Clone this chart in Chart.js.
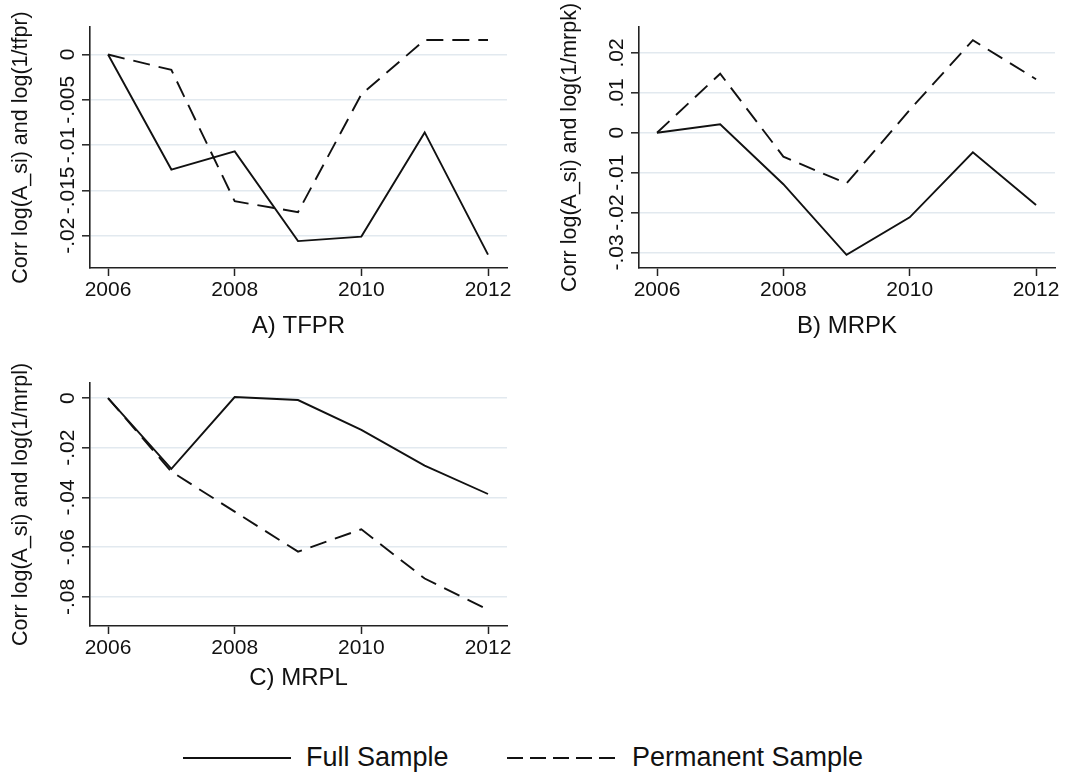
<!DOCTYPE html>
<html>
<head>
<meta charset="utf-8">
<script src="https://cdn.jsdelivr.net/npm/chart.js@4.4.1/dist/chart.umd.min.js"></script>
<style>
  body { margin: 0; background: #fff; width: 1071px; height: 773px; position: relative; overflow: hidden;
         font-family: 'Liberation Sans', Arial, Helvetica, sans-serif; }
  canvas { position: absolute; }
  .leg-line { position: absolute; top: 749px; }
  .leg-text { position: absolute; top: 744px; font-size: 27px; line-height: 27px; color: #111; white-space: nowrap; }
</style>
</head>
<body>
<canvas id="cA" width="530" height="345" style="left:0;top:0"></canvas>
<canvas id="cB" width="531" height="345" style="left:540px;top:0"></canvas>
<canvas id="cC" width="530" height="345" style="left:0;top:355px"></canvas>

<svg class="leg-line" style="left:183px" width="108" height="18"><line x1="0" y1="9" x2="108" y2="9" stroke="#111" stroke-width="1.9"/></svg>
<span class="leg-text" id="legFull" style="left:306px"></span>
<svg class="leg-line" style="left:507px" width="108" height="18"><line x1="0" y1="9" x2="108" y2="9" stroke="#111" stroke-width="1.9" stroke-dasharray="16 7"/></svg>
<span class="leg-text" id="legPerm" style="left:632px"></span>

<script>
const years = [2006, 2007, 2008, 2009, 2010, 2011, 2012];
const xTicks = [2006, 2008, 2010, 2012];
const seriesNames = ['Full Sample', 'Permanent Sample'];

// A) TFPR
const fullA = [0, -0.0127, -0.0107, -0.0206, -0.0201, -0.0086, -0.0221];
const permA = [0, -0.0017, -0.0162, -0.0174, -0.0044, 0.0016, 0.0016];
const yTicksA = [-0.02, -0.015, -0.01, -0.005, 0];
const yLabelsA = ['-.02', '-.015', '-.01', '-.005', '0'];

// B) MRPK
const fullB = [0, 0.0021, -0.0129, -0.0306, -0.0212, -0.0049, -0.0181];
const permB = [0, 0.0148, -0.006, -0.0127, 0.0057, 0.0232, 0.0134];
const yTicksB = [-0.03, -0.02, -0.01, 0, 0.01, 0.02];
const yLabelsB = ['-.03', '-.02', '-.01', '0', '.01', '.02'];

// C) MRPL
const fullC = [0, -0.0285, 0.0004, -0.0008, -0.0128, -0.0272, -0.0386];
const permC = [0, -0.0296, -0.0457, -0.0618, -0.0528, -0.0726, -0.0851];
const yTicksC = [-0.08, -0.06, -0.04, -0.02, 0];
const yLabelsC = ['-.08', '-.06', '-.04', '-.02', '0'];

const FONT = "'Liberation Sans', Arial, Helvetica, sans-serif";
const INK = '#111';
const AXIS = '#222';
const GRID = '#e2e9ef';

document.getElementById('legFull').textContent = seriesNames[0];
document.getElementById('legPerm').textContent = seriesNames[1];

// y tick labels are vertical in the original, so draw them rotated
const rotatedYLabels = {
  id: 'rotatedYLabels',
  afterDraw(chart, args, opts) {
    const ys = chart.scales.y;
    const ctx = chart.ctx;
    ctx.save();
    ctx.font = '21px ' + FONT;
    ctx.fillStyle = INK;
    ctx.textAlign = 'center';
    ctx.textBaseline = 'alphabetic';
    opts.values.forEach((v, i) => {
      const py = ys.getPixelForValue(v);
      ctx.save();
      ctx.translate(ys.right - 16, py);
      ctx.rotate(-Math.PI / 2);
      ctx.fillText(opts.labels[i], 0, 0);
      ctx.restore();
    });
    ctx.restore();
  }
};

function makePanel(id, p) {
  const ctx = document.getElementById(id).getContext('2d');
  return new Chart(ctx, {
    type: 'line',
    data: {
      datasets: [
        {
          label: seriesNames[0],
          data: years.map((y, i) => ({ x: y, y: p.full[i] })),
          borderColor: INK,
          borderWidth: 1.9,
          pointRadius: 0,
          tension: 0,
          fill: false
        },
        {
          label: seriesNames[1],
          data: years.map((y, i) => ({ x: y, y: p.perm[i] })),
          borderColor: INK,
          borderWidth: 1.9,
          borderDash: [17, 9],
          pointRadius: 0,
          tension: 0,
          fill: false
        }
      ]
    },
    options: {
      responsive: false,
      animation: false,
      devicePixelRatio: 1,
      layout: { padding: { top: p.padTop, right: p.padRight, left: 0, bottom: 0 } },
      plugins: {
        legend: { display: false },
        tooltip: { enabled: false },
        rotatedYLabels: { values: p.yTicks, labels: p.yLabels }
      },
      scales: {
        x: {
          type: 'linear',
          min: 2005.715,
          max: 2012.3,
          afterBuildTicks: (s) => { s.ticks = xTicks.map(v => ({ value: v })); },
          afterFit: (s) => { s.height = p.xHeight; },
          ticks: {
            color: INK,
            font: { family: FONT, size: 21 },
            padding: 2,
            maxRotation: 0,
            callback: (v) => String(v)
          },
          grid: { drawOnChartArea: false, drawTicks: true, tickLength: 8, tickColor: AXIS, tickWidth: 1.5 },
          border: { display: true, color: AXIS, width: 1.6 },
          title: {
            display: true,
            text: p.title,
            color: INK,
            font: { family: FONT, size: 24 },
            padding: { top: 0, bottom: p.xTitlePad }
          }
        },
        y: {
          type: 'linear',
          min: p.yMin,
          max: p.yMax,
          afterBuildTicks: (s) => { s.ticks = p.yTicks.map(v => ({ value: v })); },
          afterFit: (s) => { s.width = p.yWidth; },
          ticks: { display: false },
          grid: { color: GRID, lineWidth: 1.6, drawTicks: true, tickLength: 8, tickColor: AXIS, tickWidth: 1.5 },
          border: { display: true, color: AXIS, width: 1.6 },
          title: {
            display: true,
            text: p.yTitle,
            color: INK,
            font: { family: FONT, size: 21.5 },
            padding: { top: p.yTitlePad, bottom: 0 }
          }
        }
      }
    },
    plugins: [rotatedYLabels]
  });
}

makePanel('cA', {
  full: fullA, perm: permA, yTicks: yTicksA, yLabels: yLabelsA,
  yMin: -0.02357, yMax: 0.00304,
  title: 'A) TFPR', yTitle: 'Corr log(A_si) and log(1/tfpr)',
  padTop: 27, padRight: 23, yWidth: 90, xHeight: 77, xTitlePad: 4.5, yTitlePad: 8
});

makePanel('cB', {
  full: fullB, perm: permB, yTicks: yTicksB, yLabels: yLabelsB,
  yMin: -0.0339, yMax: 0.0265,
  title: 'B) MRPK', yTitle: 'Corr log(A_si) and log(1/mrpk)',
  padTop: 27, padRight: 16, yWidth: 99, xHeight: 77, xTitlePad: 4.5, yTitlePad: 17
});

makePanel('cC', {
  full: fullC, perm: permC, yTicks: yTicksC, yLabels: yLabelsC,
  yMin: -0.0917, yMax: 0.00605,
  title: 'C) MRPL', yTitle: 'Corr log(A_si) and log(1/mrpl)',
  padTop: 28, padRight: 23, yWidth: 90, xHeight: 74, xTitlePad: 7.5, yTitlePad: 8
});
</script>
</body>
</html>
